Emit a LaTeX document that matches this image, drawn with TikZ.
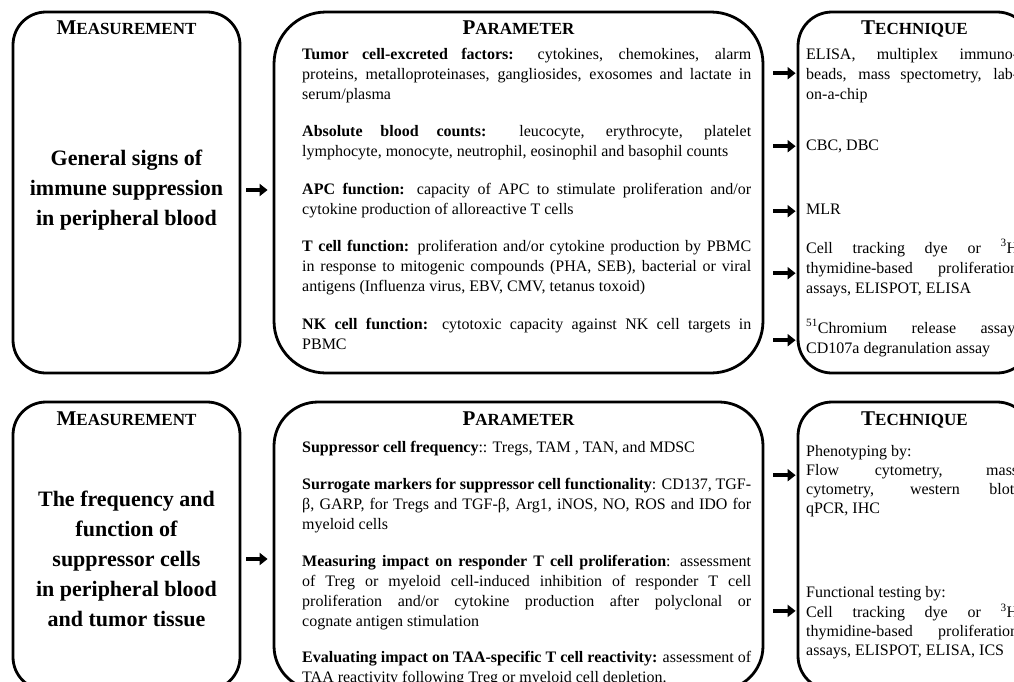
\documentclass[tikz,border=0pt]{standalone}
\usepackage{fontspec}
\setmainfont{Liberation Serif}
\usetikzlibrary{positioning,arrows.meta}
\tolerance=10000
\hyphenpenalty=10000
\exhyphenpenalty=10000
\hbadness=10000
\newcommand{\headsc}[2]{{\fontsize{21}{24}\selectfont#1}{\fontsize{17}{24}\selectfont#2}}

\begin{document}
\begin{tikzpicture}[
    x=1pt, y=-1pt,
    bigbox/.style={draw, line width=2.8pt, rounded corners=#1, inner sep=0pt},
    bigbox/.default=33pt,
    headtext/.style={font=\bfseries, inner sep=0pt, anchor=base},
    meastext/.style={font=\fontsize{22}{30}\selectfont\bfseries, align=center, inner sep=0pt},
    paramitem/.style={text width=449pt, align=justify, inner sep=0pt,
                      font=\fontsize{16}{20}\selectfont,
                      execute at begin node=\strut, execute at end node=\strut},
    techitem/.style={paramitem, text width=#1},
    techitem/.default=212pt,
    arrow/.style={-{Triangle[length=8pt,width=12pt]}, line width=4pt},
  ]

  \useasboundingbox (0,0) rectangle (1014,681);
  \clip (0,0) rectangle (1014,681);

  % Upper row: general signs
  \node[bigbox, minimum width=227pt, minimum height=361pt] (meas1) at (126.5,192.5) {};
  \node[bigbox=52pt, minimum width=489pt, minimum height=361pt] (param1) at (518.5,192.5) {};
  \node[bigbox=34pt, minimum width=233pt, minimum height=361pt] (tech1) at (914.5,192.5) {};

  \node[headtext] (measHead1) at ([yshift=-24pt]meas1.north) {\headsc{M}{EASUREMENT}};
  \node[headtext] (paramHead1) at ([yshift=-24pt]param1.north) {\headsc{P}{ARAMETER}};
  \node[headtext] (techHead1) at ([yshift=-24pt]tech1.north) {\headsc{T}{ECHNIQUE}};

  \node[meastext] (measText1) at (126.5,190) {General signs of\\immune suppression\\in peripheral blood};

  \node[paramitem, anchor=north west] (p1) at (302,45)
    {\textbf{Tumor cell-excreted factors:} cytokines, chemokines, alarm\linebreak
     proteins, metalloproteinases, gangliosides, exosomes and lactate in\linebreak
     serum/plasma};
  \node[paramitem, below right=17pt and 0pt of p1.south west] (p2)
    {\textbf{Absolute blood counts:} leucocyte, erythrocyte, platelet\linebreak
     lymphocyte, monocyte, neutrophil, eosinophil and basophil counts};
  \node[paramitem, below right=17pt and 0pt of p2.south west] (p3)
    {\textbf{APC function:} capacity of APC to stimulate proliferation and/or\linebreak
     cytokine production of alloreactive T cells};
  \node[paramitem, below right=17pt and 0pt of p3.south west] (p4)
    {\textbf{T cell function:} proliferation and/or cytokine production by PBMC\linebreak
     in response to mitogenic compounds (PHA, SEB), bacterial or viral\linebreak
     antigens (Influenza virus, EBV, CMV, tetanus toxoid)};
  \node[paramitem, below right=18pt and 0pt of p4.south west] (p5)
    {\textbf{NK cell function:} cytotoxic capacity against NK cell targets in\linebreak
     PBMC};

  \node[techitem, anchor=north west] (t1) at (806,45)
    {ELISA, multiplex immuno-\linebreak beads, mass spectometry, lab-\linebreak on-a-chip};
  \node[techitem, anchor=north west] (t2) at (806,136) {CBC, DBC};
  \node[techitem, anchor=north west] (t3) at (806,200) {MLR};
  \node[techitem, anchor=north west] (t4) at (806,239)
    {Cell tracking dye or \textsuperscript{3}H\linebreak thymidine-based proliferation\linebreak
     assays, ELISPOT, ELISA};
  \node[techitem, anchor=north west] (t5) at (806,319)
    {\textsuperscript{51}Chromium release assay,\linebreak CD107a degranulation assay};

  \draw[arrow] ([xshift=5pt]meas1.east |- measText1.center) -- ([xshift=-5pt]param1.west |- measText1.center);
  \foreach \t/\s in {t1/2,t2/0,t3/-1,t4/-4,t5/-1}
    \draw[arrow] ([xshift=9pt,yshift=\s pt]param1.east |- \t.west) -- ([xshift=-1pt,yshift=\s pt]tech1.west |- \t.west);

  % Lower row: suppressor cells
  \node[bigbox, minimum width=227pt, minimum height=288pt] (meas2) at (126.5,546) {};
  \node[bigbox=44pt, minimum width=489pt, minimum height=288pt] (param2) at (518.5,546) {};
  \node[bigbox=34pt, minimum width=233pt, minimum height=288pt] (tech2) at (914.5,546) {};

  \node[headtext] (measHead2) at ([yshift=-25pt]meas2.north) {\headsc{M}{EASUREMENT}};
  \node[headtext] (paramHead2) at ([yshift=-25pt]param2.north) {\headsc{P}{ARAMETER}};
  \node[headtext] (techHead2) at ([yshift=-25pt]tech2.north) {\headsc{T}{ECHNIQUE}};

  \node[meastext] (measText2) at (126.5,559)
    {The frequency and\\function of\\suppressor cells\\in peripheral blood\\and tumor tissue};

  \node[paramitem, anchor=north west] (q1) at (302,438)
    {\textbf{Suppressor cell frequency}:: Tregs, TAM , TAN, and MDSC};
  \node[paramitem, below right=17pt and 0pt of q1.south west] (q2)
    {\textbf{Surrogate markers for suppressor cell functionality}: CD137, TGF-\linebreak
     β, GARP, for Tregs and TGF-β, Arg1, iNOS, NO, ROS and IDO for\linebreak
     myeloid cells};
  \node[paramitem, below right=16pt and 0pt of q2.south west] (q3)
    {\textbf{Measuring impact on responder T cell proliferation}: assessment\linebreak
     of Treg or myeloid cell-induced inhibition of responder T cell\linebreak
     proliferation and/or cytokine production after polyclonal or\linebreak
     cognate antigen stimulation};
  \node[paramitem, below right=16pt and 0pt of q3.south west] (q4)
    {\textbf{Evaluating impact on TAA-specific T cell reactivity:} assessment of\linebreak
     TAA reactivity following Treg or myeloid cell depletion.};

  \node[techitem, anchor=north west, font=\fontsize{16}{19}\selectfont] (tPheno) at (806,443)
    {Phenotyping by:\\Flow cytometry, mass\linebreak cytometry, western blot,\linebreak qPCR, IHC};
  \node[techitem, anchor=north west, font=\fontsize{16}{19}\selectfont] (tFunc) at (806,584)
    {Functional testing by:\\Cell tracking dye or \textsuperscript{3}H\linebreak
     thymidine-based proliferation\linebreak assays, ELISPOT, ELISA, ICS};

  \draw[arrow] ([xshift=5pt]meas2.east |- measText2.center) -- ([xshift=-5pt]param2.west |- measText2.center);
  \draw[arrow] ([xshift=9pt,yshift=6pt]param2.east |- tPheno.west) -- ([xshift=-1pt,yshift=6pt]tech2.west |- tPheno.west);
  \draw[arrow] ([xshift=9pt,yshift=12pt]param2.east |- tFunc.west) -- ([xshift=-1pt,yshift=12pt]tech2.west |- tFunc.west);

\end{tikzpicture}
\end{document}
